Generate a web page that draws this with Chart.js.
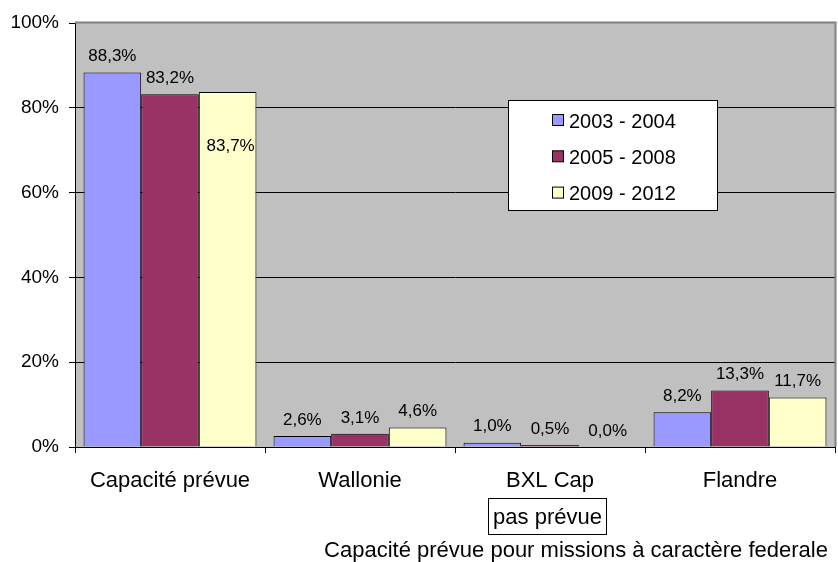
<!DOCTYPE html>
<html lang="fr">
<head>
<meta charset="UTF-8">
<title>Capacité prévue</title>
<script src="https://cdn.jsdelivr.net/npm/chart.js"></script>
<style>
    html, body { margin: 0; padding: 0; background: #fff; }
    #wrap { width: 838px; height: 562px; }
</style>
</head>
<body>
<div id="wrap"><canvas id="chart"></canvas></div>
<script>
const categories = ['Capacité prévue', 'Wallonie', 'BXL Cap', 'Flandre'];
const periods = ['2003 - 2004', '2005 - 2008', '2009 - 2012'];
const v2003 = [88.3, 2.6, 1.0, 8.2];
const v2005 = [83.2, 3.1, 0.5, 13.3];
const v2009 = [83.7, 4.6, 0.0, 11.7];
const yTicks = [0, 20, 40, 60, 80, 100];

const colors = ['#9999FF', '#993366', '#FFFFCC'];
const font = '"Liberation Sans", Arial, sans-serif';

// plot background, value labels, legend box, note and axis title
const decor = {
    id: 'decor',
    beforeDraw(chart) {
        const a = chart.chartArea, c = chart.ctx;
        c.save();
        c.fillStyle = '#C0C0C0';
        c.fillRect(a.left, a.top, a.right - a.left, a.bottom - a.top);
        c.restore();
    },
    afterDatasetsDraw(chart) {
        const c = chart.ctx, a = chart.chartArea;
        c.save();
        // grey plot border on the top and right
        c.strokeStyle = '#808080';
        c.lineWidth = 2;
        c.beginPath();
        c.moveTo(a.left, a.top - 0.5);
        c.lineTo(a.right + 0.5, a.top - 0.5);
        c.lineTo(a.right + 0.5, a.bottom);
        c.stroke();

        c.font = '17px ' + font;
        c.fillStyle = '#000';
        c.textAlign = 'center';
        c.textBaseline = 'middle';
        chart.data.datasets.forEach((ds, i) => {
            chart.getDatasetMeta(i).data.forEach((bar, j) => {
                const txt = ds.data[j].toFixed(1).replace('.', ',') + '%';
                let x = bar.x, y = bar.y - 16;
                if (i === 2 && j === 0) { x += 3; y = bar.y + 54; }
                c.fillText(txt, x, y);
            });
        });
        c.restore();
    },
    afterDraw(chart) {
        const c = chart.ctx;
        c.save();
        // legend
        c.fillStyle = '#fff';
        c.fillRect(508.5, 100.5, 209, 110);
        c.strokeStyle = '#000';
        c.lineWidth = 1;
        c.strokeRect(508.5, 100.5, 209, 110);
        c.font = '20px ' + font;
        c.textAlign = 'left';
        c.textBaseline = 'middle';
        periods.forEach((p, i) => {
            const y = 121 + i * 36.3;
            c.fillStyle = colors[i];
            c.fillRect(552.5, y - 6.5, 11, 11);
            c.strokeStyle = '#000';
            c.strokeRect(552.5, y - 6.5, 11, 11);
            c.fillStyle = '#000';
            c.fillText(p, 569, y + 1);
        });
        // note under BXL Cap
        c.fillStyle = '#fff';
        c.fillRect(488.5, 498.5, 118, 36);
        c.strokeRect(488.5, 498.5, 118, 36);
        c.fillStyle = '#000';
        c.font = '22px ' + font;
        c.textAlign = 'center';
        c.fillText('pas prévue', 547.5, 518);
        c.fillText('Capacité prévue pour missions à caractère federale', 576, 551);
        c.restore();
    }
};

new Chart(document.getElementById('chart'), {
    type: 'bar',
    data: {
        labels: categories,
        datasets: [v2003, v2005, v2009].map((d, i) => ({
            label: periods[i],
            data: d,
            backgroundColor: colors[i],
            borderColor: '#000',
            borderWidth: 1,
            borderSkipped: 'bottom',
            categoryPercentage: 0.91,
            barPercentage: 1
        }))
    },
    options: {
        responsive: true,
        maintainAspectRatio: false,
        animation: false,
        layout: { padding: { top: 23, right: 3, left: 0, bottom: 0 } },
        plugins: { legend: { display: false }, tooltip: { enabled: false } },
        scales: {
            y: {
                min: 0, max: 100,
                afterBuildTicks: s => { s.ticks = yTicks.map(v => ({ value: v })); },
                afterFit: s => { s.width = 75; },
                ticks: {
                    callback: v => v + '%',
                    font: { family: font, size: 19 },
                    color: '#000',
                    padding: 10
                },
                grid: {
                    color: ctx => ctx.tick && ctx.tick.value === 100 ? 'rgba(0,0,0,0)' : '#000',
                    tickLength: 6,
                    tickColor: '#000'
                },
                border: { color: '#000' }
            },
            x: {
                afterFit: s => { s.height = 115; },
                ticks: {
                    font: { family: font, size: 22 },
                    color: '#000',
                    padding: 15
                },
                grid: { drawOnChartArea: false, tickLength: 6, color: '#000', offset: true },
                border: { color: '#000' }
            }
        }
    },
    plugins: [decor]
});
</script>
</body>
</html>
